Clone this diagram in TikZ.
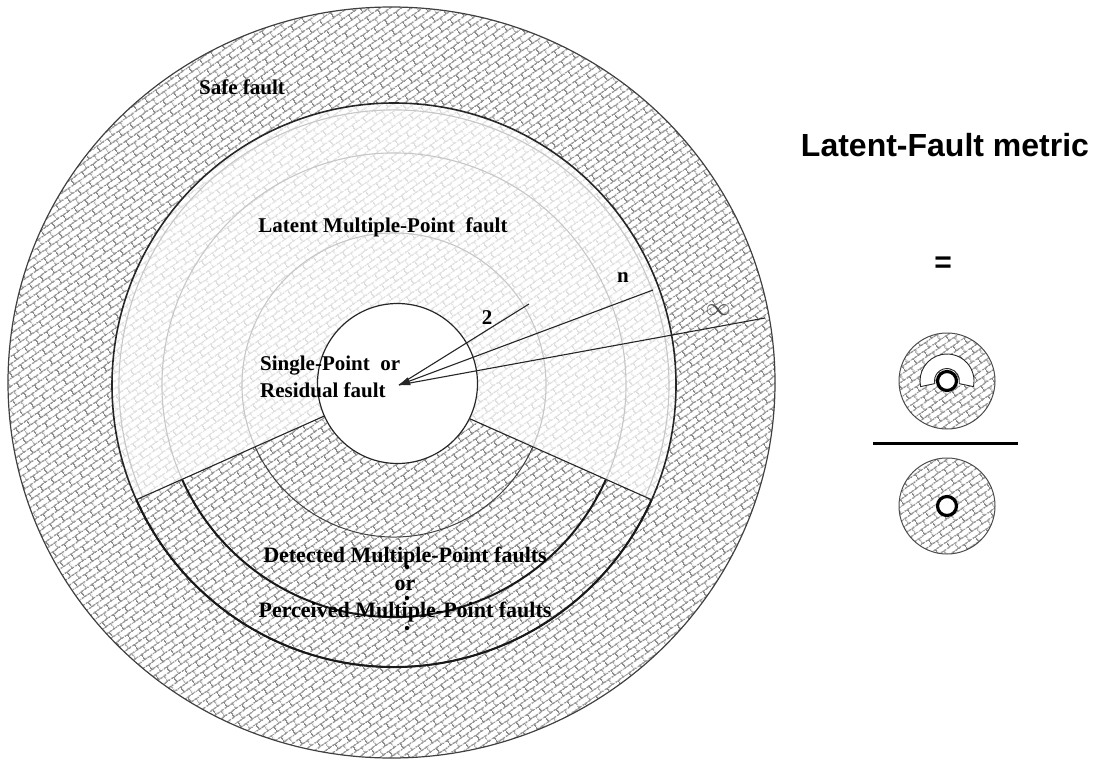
\documentclass[tikz,border=0pt]{standalone}
\usepackage{fontspec}
\setmainfont{Liberation Serif}
\newfontfamily\headfont{Liberation Sans}
\usetikzlibrary{patterns.meta,arrows.meta,calc}

% diagonal brick pattern
\pgfdeclarepattern{
  name=bricks,
  type=uncolored,
  bottom left={\pgfpoint{0pt}{0pt}},
  top right={\pgfpoint{13pt}{12pt}},
  tile size={\pgfpoint{13pt}{12pt}},
  tile transformation={\pgftransformrotate{35}},
  code={
    \pgfsetlinewidth{1.2pt}
    \pgfpathmoveto{\pgfpoint{0pt}{3pt}}\pgfpathlineto{\pgfpoint{13pt}{3pt}}
    \pgfpathmoveto{\pgfpoint{0pt}{9pt}}\pgfpathlineto{\pgfpoint{13pt}{9pt}}
    \pgfpathmoveto{\pgfpoint{3.25pt}{3pt}}\pgfpathlineto{\pgfpoint{3.25pt}{9pt}}
    \pgfpathmoveto{\pgfpoint{9.75pt}{9pt}}\pgfpathlineto{\pgfpoint{9.75pt}{12pt}}
    \pgfpathmoveto{\pgfpoint{9.75pt}{0pt}}\pgfpathlineto{\pgfpoint{9.75pt}{3pt}}
    \pgfusepath{stroke}
  }
}

\tikzset{
  darkhatch/.style={pattern=bricks, pattern color=black!45},
  lighthatch/.style={pattern=bricks, pattern color=black!13},
  ringline/.style={line width=1.6pt, black!85},
  faintline/.style={line width=1.1pt, black!22},
  spoke/.style={line width=1.1pt, black!85},
  serifbold/.style={font=\fontsize{21}{27}\selectfont\bfseries, inner sep=0pt},
  headtext/.style={font=\headfont\bfseries\fontsize{32}{38}\selectfont, inner sep=0pt},
  dotmark/.style={fill=black},
}

\begin{document}
\begin{tikzpicture}[x=1pt,y=-1pt]
\useasboundingbox (0,0) rectangle (1099,762);

\coordinate (Oc) at (391.5,382.5);
\coordinate (O) at (394,385);
\coordinate (Ic) at (397.5,383.5);

% outer ring: safe faults
\path[darkhatch] (Oc) ellipse[x radius=383.5, y radius=375.5];
\draw[line width=1.2pt, black!75] (Oc) ellipse[x radius=383.5, y radius=375.5];

% inner disk split into latent (upper) and detected (lower) sectors
\fill[white] (O) circle[radius=282];
\path[lighthatch] (O) -- ($(O)+(156:282)$) arc[start angle=156, end angle=384, radius=282] -- cycle;
\path[darkhatch] (O) -- ($(O)+(24:282)$) arc[start angle=24, end angle=156, radius=282] -- cycle;

% order circles in the latent sector
\draw[faintline] ($(O)+(156:152)$) arc[start angle=156, end angle=384, radius=152];
\draw[faintline] ($(O)+(156:232)$) arc[start angle=156, end angle=384, radius=232];
\draw[faintline] ($(O)+(156:275)$) arc[start angle=156, end angle=384, radius=275];

% order circles in the detected sector
\draw[line width=1pt, black!75] ($(O)+(24:152)$) arc[start angle=24, end angle=156, radius=152];
\draw[line width=2pt, black!90] ($(O)+(24:232)$) arc[start angle=24, end angle=156, radius=232];

% boundary of the inner disk
\draw[ringline] (O) circle[radius=282];
\draw[line width=2pt, black!90] ($(O)+(24:282)$) arc[start angle=24, end angle=156, radius=282];

% sector borders
\coordinate (Sr) at ($(O)+(24:282)$);
\coordinate (Sl) at ($(O)+(156:282)$);
\draw[spoke] (O) -- (Sr);
\draw[spoke] (O) -- (Sl);

% single-point core
\filldraw[fill=white, line width=1.2pt, draw=black!85] (Ic) circle[radius=80];

% order pointers
\coordinate (T) at (399,385);
\coordinate (E2) at (529,304);
\coordinate (En) at (653,290);
\coordinate (Ei) at (765,318);
\draw[spoke] (E2) -- (T);
\draw[spoke] (Ei) -- (T);
\draw[spoke, -{Triangle[length=11pt, width=8pt]}] (En) -- (T);

% labels
\node[serifbold] (safe) at (242,87) {Safe fault};
\node[serifbold] (latent) at (383,227) {Latent Multiple-Point\ \ fault};
\node[serifbold, align=left, anchor=west] (single) at (260,377) {Single-Point\ \ or\\Residual fault};
\node[serifbold, font=\fontsize{22}{27.5}\selectfont\bfseries, align=center] (detected) at (405,585) {Detected Multiple-Point faults\\or\\Perceived Multiple-Point faults};
\node[serifbold] (two) at (487,318) {2};
\node[serifbold] (enn) at (623,278) {n};
\node[font=\fontsize{24}{24}\selectfont, text=black!70, inner sep=0pt] (inf) at (718,310) {$\infty$};

% vertical ellipsis
\fill[dotmark] (407,567) circle[radius=2.2];
\fill[dotmark] (407,598) circle[radius=2.2];
\fill[dotmark] (407,628) circle[radius=2.2];

% metric as a fraction of two small discs
\node[headtext] (title) at (945,145) {Latent-Fault metric};
\node[headtext, font=\headfont\bfseries\fontsize{30}{36}\selectfont] (eq) at (943,265) {=};

\coordinate (A) at (947,381);
\coordinate (B) at (947,506);

\path[darkhatch] (A) circle[radius=48];
\draw[line width=1pt, black!70] (A) circle[radius=48];
\filldraw[fill=white, line width=0.9pt, draw=black!85]
  ($(A)+(168:27)$) arc[start angle=168, end angle=372, radius=27]
  -- ($(A)+(12:12.5)$) arc[start angle=12, end angle=-192, radius=12.5] -- cycle;
\filldraw[fill=white, line width=3.2pt] (A) circle[radius=9.5];

\draw[line width=3pt] (873,443) -- (1018,443);

\path[darkhatch] (B) circle[radius=48];
\draw[line width=1pt, black!70] (B) circle[radius=48];
\filldraw[fill=white, line width=3.2pt] (B) circle[radius=9.5];
\end{tikzpicture}
\end{document}
